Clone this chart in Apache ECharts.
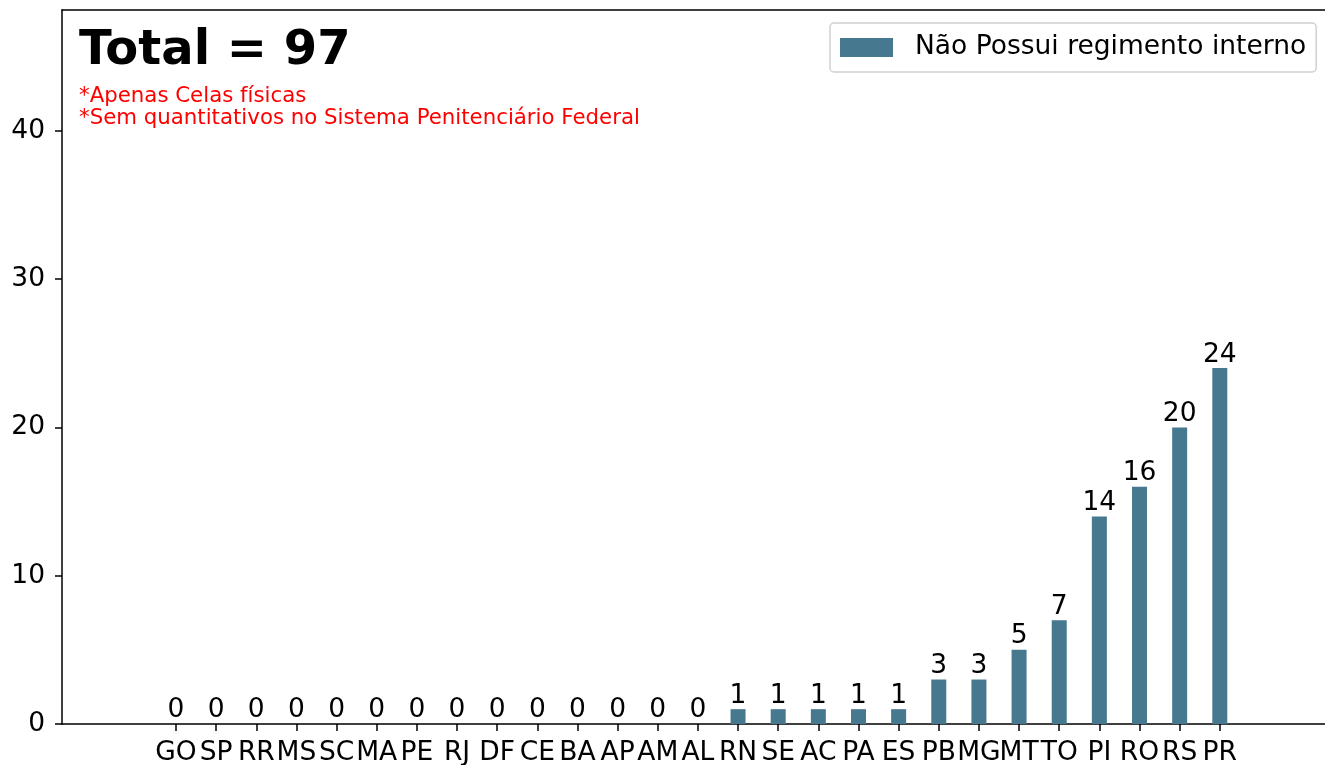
<!DOCTYPE html>
<html>
<head>
<meta charset="utf-8">
<script src="https://cdn.jsdelivr.net/npm/echarts@6/dist/echarts.min.js"></script>
<style>
  html, body { margin: 0; padding: 0; background: #ffffff; overflow: hidden; }
  #chart { width: 1325px; height: 765px; }
</style>
</head>
<body>
<div id="chart"></div>
<script>
// States (UF) ordered by count
const categories = ['GO', 'SP', 'RR', 'MS', 'SC', 'MA', 'PE', 'RJ', 'DF', 'CE', 'BA', 'AP', 'AM', 'AL',
                    'RN', 'SE', 'AC', 'PA', 'ES', 'PB', 'MG', 'MT', 'TO', 'PI', 'RO', 'RS', 'PR'];
const values = [0, 0, 0, 0, 0, 0, 0, 0, 0, 0, 0, 0, 0, 0,
                1, 1, 1, 1, 1, 3, 3, 5, 7, 14, 16, 20, 24];
const yTicks = [0, 10, 20, 30, 40];
const seriesName = 'Não Possui regimento interno';
const notes = ['*Apenas Celas físicas', '*Sem quantitativos no Sistema Penitenciário Federal'];

const total = values.reduce((a, b) => a + b, 0);
const barColor = '#46788f';
const font = 'DejaVu Sans';
const fs = 26.5;
const xTickValues = categories.map((_, i) => i);
const spine = { color: '#000000', width: 1.5 };
const xMin = -2.84, xMax = 28.77;

const chart = echarts.init(document.getElementById('chart'), null, { renderer: 'canvas' });

chart.setOption({
  animation: false,
  backgroundColor: '#ffffff',
  grid: {
    left: 62, right: -6, top: 10, bottom: 41,
    show: false, containLabel: false, outerBoundsMode: 'none'
  },
  legend: {
    data: [seriesName],
    left: 830, top: 23,
    padding: [11, 10, 11, 10],
    itemWidth: 53, itemHeight: 19,
    borderColor: '#d0d0d0', borderWidth: 1.5, borderRadius: 4,
    backgroundColor: 'rgba(255,255,255,0.8)',
    textStyle: { fontFamily: font, fontSize: fs, color: '#000000', padding: [0, 0, 0, 17] },
    icon: 'rect'
  },
  xAxis: [{
    type: 'value',
    min: xMin, max: xMax,
    splitLine: { show: false },
    axisLine: { show: true, onZero: false, lineStyle: spine },
    axisTick: { show: true, customValues: xTickValues, length: 7, lineStyle: spine },
    axisLabel: {
      customValues: xTickValues,
      formatter: v => categories[Math.round(v)] || '',
      fontFamily: font, fontSize: fs, color: '#000000', margin: 16,
      hideOverlap: false
    }
  }, {
    // top spine
    type: 'value', position: 'top',
    min: xMin, max: xMax,
    splitLine: { show: false },
    axisLine: { show: true, onZero: false, lineStyle: spine },
    axisTick: { show: false },
    axisLabel: { show: false }
  }],
  yAxis: {
    type: 'value',
    min: 0, max: 48.15,
    splitLine: { show: false },
    axisLine: { show: true, onZero: false, lineStyle: spine },
    axisTick: { show: true, customValues: yTicks, length: 7, lineStyle: spine },
    axisLabel: {
      customValues: yTicks,
      fontFamily: font, fontSize: fs, color: '#000000', margin: 17
    }
  },
  series: [{
    name: seriesName,
    type: 'bar',
    xAxisIndex: 0,
    barWidth: 15,
    itemStyle: { color: barColor },
    data: values.map((v, i) => [i, v]),
    label: {
      show: true,
      position: 'top',
      distance: 0,
      formatter: p => String(p.value[1]),
      fontFamily: font, fontSize: fs, color: '#000000'
    }
  }],
  graphic: [
    {
      type: 'text', left: 79, top: 28,
      style: { text: 'Total = ' + total, fontFamily: font, fontWeight: 'bold', fontSize: 48, fill: '#000000' }
    },
    {
      type: 'text', left: 79, top: 86,
      style: { text: notes[0], fontFamily: font, fontSize: 21.3, fill: '#ff0000' }
    },
    {
      type: 'text', left: 79, top: 108,
      style: { text: notes[1], fontFamily: font, fontSize: 21.3, fill: '#ff0000' }
    }
  ]
});
</script>
</body>
</html>
